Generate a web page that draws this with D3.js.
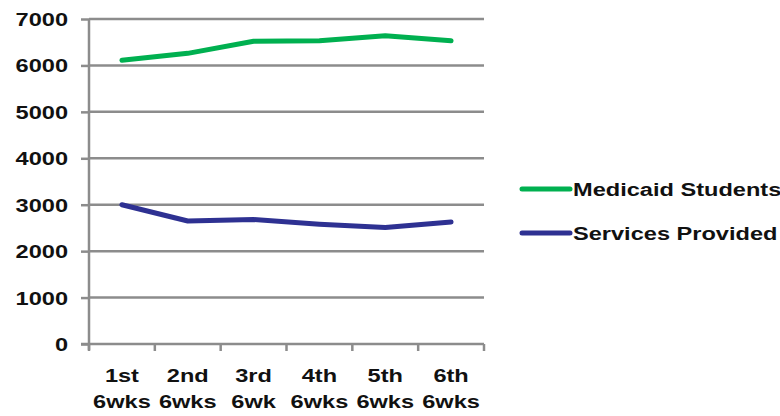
<!DOCTYPE html>
<html><head><meta charset="utf-8">
<script src="https://cdn.jsdelivr.net/npm/d3@7"></script>
<style>body{margin:0;background:#fff}svg{display:block}text{font-family:"Liberation Sans",Arial,sans-serif;font-weight:bold;fill:#111}</style>
</head><body>
<svg id="c" width="780" height="416"></svg>
<script>
const categories = [["1st","6wks"],["2nd","6wks"],["3rd","6wk"],["4th","6wks"],["5th","6wks"],["6th","6wks"]];
const medicaidStudents = [6110, 6260, 6520, 6530, 6640, 6530];
const servicesProvided = [3000, 2650, 2680, 2580, 2510, 2630];
const yTicks = [0,1000,2000,3000,4000,5000,6000,7000];
const seriesNames = ["Medicaid Students","Services Provided"];
const colors = ["#00b050","#2e3192"];

const svg = d3.select("#c");
const L=89, R=484, T=19, B=344;
const FS = 18, SX = 1.31;
const x = d3.scaleBand().domain(d3.range(categories.length)).range([L,R]);
const y = d3.scaleLinear().domain([0,7000]).range([B,T]);

// gridlines
svg.append("g").selectAll("line").data(yTicks.filter(d=>d>0)).join("line")
  .attr("x1",L).attr("x2",R).attr("y1",d=>y(d)).attr("y2",d=>y(d))
  .attr("stroke","#8c8c8c").attr("stroke-width",2.5);

// y axis
const ya = svg.append("g").attr("transform",`translate(${L},0)`)
  .call(d3.axisLeft(y).tickValues(yTicks).tickSize(8).tickPadding(13).tickFormat(d3.format("d")));
ya.select(".domain").attr("stroke","#8c8c8c").attr("stroke-width",2.5).attr("d",`M0,${T}V${B+6}`);
ya.selectAll(".tick line").attr("stroke","#8c8c8c").attr("stroke-width",2.5);
ya.selectAll(".tick text").attr("font-size",FS).attr("font-family","Liberation Sans").attr("font-weight","bold").attr("fill","#111")
  .attr("x",0).attr("dy",null).attr("dominant-baseline","central")
  .attr("transform",`translate(-21,0) scale(${SX},1)`);

// x axis
svg.append("line").attr("x1",L-8).attr("x2",R).attr("y1",B).attr("y2",B).attr("stroke","#8c8c8c").attr("stroke-width",2.5);
const xt = d3.range(categories.length+1).map(i=>L+i*x.step());
svg.append("g").selectAll("line").data(xt).join("line")
  .attr("x1",d=>d).attr("x2",d=>d).attr("y1",B).attr("y2",B+7)
  .attr("stroke","#8c8c8c").attr("stroke-width",2.5);
const xl = svg.append("g").selectAll("text").data(categories).join("text")
  .attr("text-anchor","middle").attr("font-size",FS)
  .attr("transform",(d,i)=>`translate(${x(i)+x.bandwidth()/2},0) scale(${SX},1)`);
xl.append("tspan").attr("x",0).attr("y",382).text(d=>d[0]);
xl.append("tspan").attr("x",0).attr("y",408).text(d=>d[1]);

// lines
const line = d3.line().x((d,i)=>x(i)+x.bandwidth()/2).y(d=>y(d));
[medicaidStudents, servicesProvided].forEach((s,k)=>{
  svg.append("path").datum(s).attr("d",line).attr("fill","none")
    .attr("stroke",colors[k]).attr("stroke-width",5).attr("stroke-linecap","round").attr("stroke-linejoin","round");
});

// legend
const lg = svg.append("g").selectAll("g").data(seriesNames).join("g")
  .attr("transform",(d,i)=>`translate(0,${189+i*44})`);
lg.append("line").attr("x1",522).attr("x2",570).attr("y1",0).attr("y2",0)
  .attr("stroke",(d,i)=>colors[i]).attr("stroke-width",5).attr("stroke-linecap","round");
lg.append("text").attr("transform",`translate(573,7) scale(${SX},1)`).attr("font-size",FS).text(d=>d);
</script>
</body></html>
